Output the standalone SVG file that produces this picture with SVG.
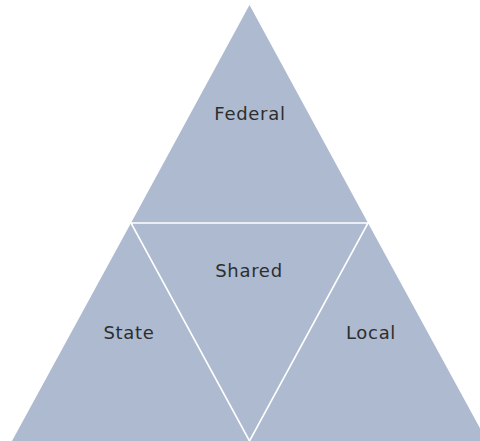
<svg xmlns="http://www.w3.org/2000/svg" width="480" height="441" viewBox="0 0 480 441">
<style>
.tri{fill:#adbad0;stroke:none}
.lbl{font-family:"DejaVu Sans",sans-serif;font-size:18px;fill:#2e2e2e;text-anchor:middle;letter-spacing:0.7px}
.sep{stroke:#fff;stroke-width:1.6;fill:none}
</style>
<rect width="480" height="441" fill="#fff"/>
<g id="federal">
<polygon class="tri" points="249.5,5 131,223 368,223"/>
<text class="lbl" x="250" y="120">Federal</text>
</g>
<g id="shared">
<polygon class="tri" points="131,223 368,223 249.5,441"/>
<text class="lbl" x="249" y="277">Shared</text>
</g>
<g id="state">
<polygon class="tri" points="131,223 249.5,441 12,441"/>
<text class="lbl" x="129" y="339">State</text>
</g>
<g id="local">
<polygon class="tri" points="368,223 487,441 249.5,441"/>
<text class="lbl" x="371" y="339">Local</text>
</g>
<g id="connectors">
<path class="sep" d="M131,223 L368,223 L249.5,441 Z"/>
</g>
</svg>
